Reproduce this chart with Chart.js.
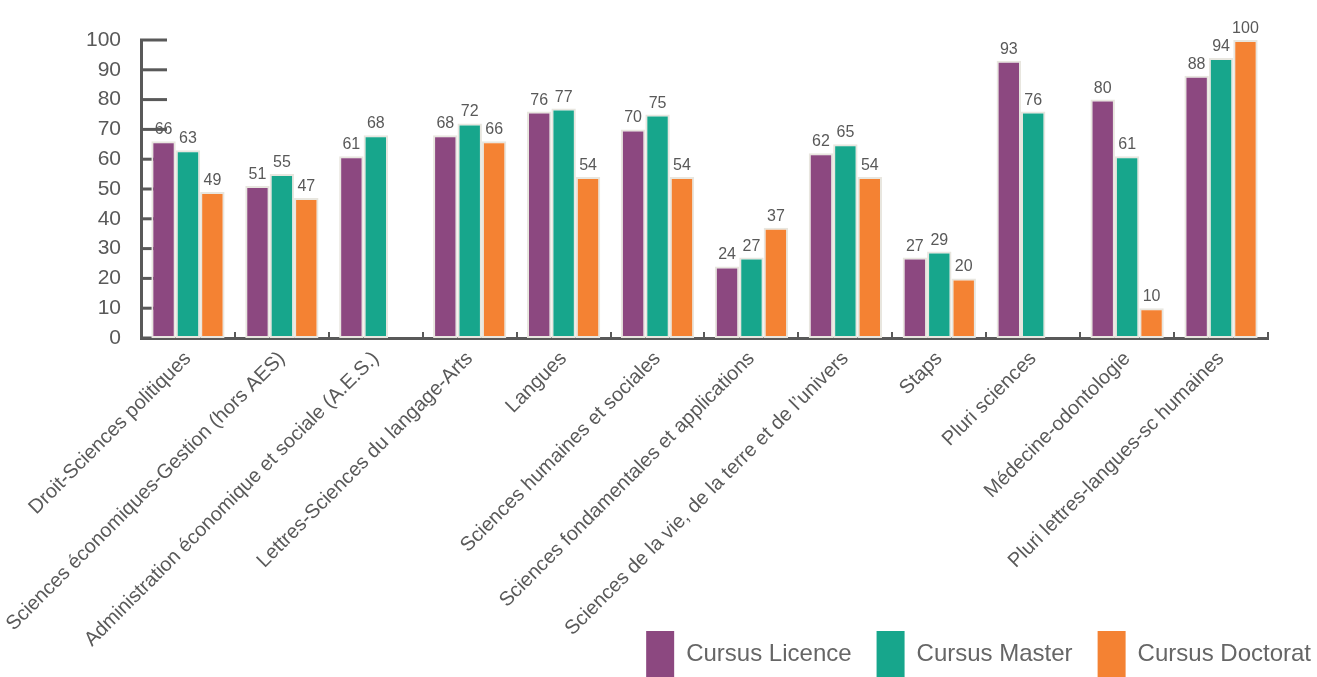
<!DOCTYPE html>
<html>
<head>
<meta charset="utf-8">
<script src="https://cdn.jsdelivr.net/npm/chart.js@4.4.1/dist/chart.umd.min.js"></script>
<style>
  html, body { margin: 0; padding: 0; background: #fff; }
  #wrap { width: 1317px; height: 677px; }
</style>
</head>
<body>
<div id="wrap"><canvas id="bar-chart"></canvas></div>
<script>
const categories = [
  "Droit-Sciences politiques",
  "Sciences économiques-Gestion (hors AES)",
  "Administration économique et sociale (A.E.S.)",
  "Lettres-Sciences du langage-Arts",
  "Langues",
  "Sciences humaines et sociales",
  "Sciences fondamentales et applications",
  "Sciences de la vie, de la terre et de l\u2019univers",
  "Staps",
  "Pluri sciences",
  "Médecine-odontologie",
  "Pluri lettres-langues-sc humaines",
];
const licence = [66, 51, 61, 68, 76, 70, 24, 62, 27, 93, 80, 88];
const master = [63, 55, 68, 72, 77, 75, 27, 65, 29, 76, 61, 94];
const doctorat = [49, 47, null, 66, 54, 54, 37, 54, 20, null, 10, 100];
const yTicks = [0, 10, 20, 30, 40, 50, 60, 70, 80, 90, 100];

const axisColor = "#595959";
const textColor = "#595959";
Chart.defaults.font.family = "'Liberation Sans', Arial, sans-serif";

// petits traits des axes (vers l'intérieur) + étiquettes de valeurs
const axisMarks = {
  id: "axisMarks",
  afterLayout(chart) {
    // les libellés inclinés débordent sous la zone de l'axe : ne pas les couper
    chart.scales.x.bottom = chart.height;
  },
  beforeDatasetsDraw(chart) {
    const ctx = chart.ctx;
    const y = chart.scales.y, x = chart.scales.x;
    const left = chart.chartArea.left, bottom = chart.chartArea.bottom;
    ctx.save();
    ctx.strokeStyle = axisColor;
    ctx.lineWidth = 3;
    yTicks.forEach(v => {
      const py = y.getPixelForValue(v);
      ctx.beginPath();
      ctx.moveTo(left - 1, py);
      ctx.lineTo(left + 26, py);
      ctx.stroke();
    });
    ctx.lineWidth = 2;
    const step = (x.getPixelForValue(1) - x.getPixelForValue(0));
    for (let i = 1; i <= categories.length; i++) {
      const px = Math.round(x.getPixelForValue(i) - step / 2);
      ctx.beginPath();
      ctx.moveTo(px, bottom);
      ctx.lineTo(px, bottom - 6);
      ctx.stroke();
    }
    ctx.restore();
  },
  afterDatasetsDraw(chart) {
    const ctx = chart.ctx;
    ctx.save();
    ctx.fillStyle = textColor;
    ctx.font = "16px 'Liberation Sans', Arial, sans-serif";
    ctx.textAlign = "center";
    ctx.textBaseline = "alphabetic";
    chart.data.datasets.forEach((ds, di) => {
      const meta = chart.getDatasetMeta(di);
      meta.data.forEach((bar, i) => {
        if (ds.data[i] == null) return;
        ctx.fillText(ds.data[i], bar.x, bar.y - 7);
      });
    });
    ctx.restore();
  },
};

const barChart = document.querySelector("#bar-chart").getContext("2d");

new Chart(barChart, {
  type: "bar",
  data: {
    labels: categories,
    datasets: [
      { label: "Cursus Licence", data: licence, backgroundColor: "#8c4880" },
      { label: "Cursus Master", data: master, backgroundColor: "#17a68c" },
      { label: "Cursus Doctorat", data: doctorat, backgroundColor: "#f48233" },
    ],
  },
  options: {
    responsive: true,
    maintainAspectRatio: false,
    animation: false,
    datasets: {
      bar: {
        borderColor: "#e8e6df",
        borderWidth: 2,
        borderSkipped: false,
        categoryPercentage: 0.78,
        barPercentage: 1,
      },
    },
    layout: { padding: { top: 40, left: 0, right: -19, bottom: -10 } },
    plugins: {
      tooltip: { enabled: false },
      legend: {
        position: "bottom",
        align: "end",
        labels: {
          boxWidth: 28,
          boxHeight: 46,
          padding: 25,
          color: "#666",
          font: { size: 24 },
          generateLabels(chart) {
            const items = Chart.defaults.plugins.legend.labels.generateLabels(chart);
            items.forEach(it => { it.lineWidth = 0; it.strokeStyle = it.fillStyle; });
            return items;
          },
        },
      },
    },
    scales: {
      x: {
        grid: { display: false, drawTicks: false },
        border: { display: true, color: axisColor, width: 3 },
        ticks: {
          color: textColor,
          font: { size: 20 },
          minRotation: 45,
          maxRotation: 45,
          autoSkip: false,
          padding: 9,
        },
        afterFit(s) { s.height = 268; },
      },
      y: {
        min: 0,
        max: 100,
        grid: { display: false, drawTicks: false },
        border: { display: true, color: axisColor, width: 3 },
        ticks: { stepSize: 10, color: textColor, font: { size: 21 }, padding: 20 },
        afterFit(s) { s.width = 141; },
      },
      yRight: {
        position: "right",
        grid: { display: false, drawTicks: false },
        border: { display: false },
        ticks: { display: false },
        afterFit(s) { s.width = 68; },
      },
    },
  },
  plugins: [axisMarks],
});
</script>
</body>
</html>
